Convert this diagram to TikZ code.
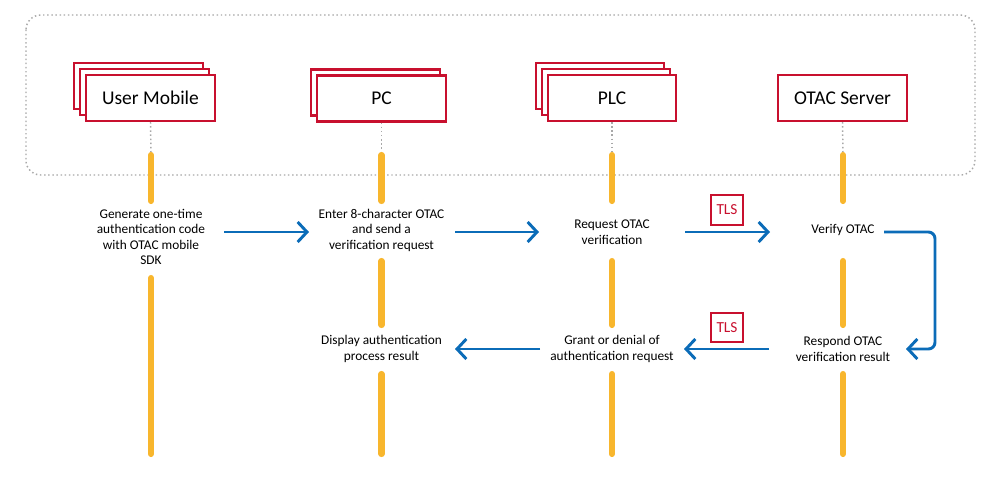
\documentclass[tikz,border=0pt]{standalone}
\usepackage{fontspec}
\setmainfont{Carlito}
\usetikzlibrary{arrows.meta}
\definecolor{cred}{HTML}{C8102E}
\definecolor{cblue}{HTML}{0B6CB8}
\definecolor{cyel}{HTML}{F8B62D}
\definecolor{cgray}{HTML}{A8A8A8}
\tikzset{
  actor/.style={draw=cred, line width=1.6pt, fill=white, minimum width=96.5pt, minimum height=34.5pt, inner sep=0pt, font=\fontsize{14.6}{17}\selectfont},
  msg/.style={align=center, font=\fontsize{10}{11.6}\selectfont, inner sep=0pt},
  tls/.style={draw=cred, line width=1.4pt, text=cred, minimum width=24pt, minimum height=22pt, inner sep=0pt, font=\fontsize{11.5}{13}\selectfont},
  flow/.style={draw=cblue, line width=2.2pt, -{Straight Barb[length=7pt,width=15pt,line width=2.2pt]}},
  life/.style={draw=cyel, line width=4.6pt, line cap=round},
  guide/.style={draw=cgray, line width=1.1pt, dotted},
}
\begin{document}
\begin{tikzpicture}[x=0.75pt,y=-0.75pt]
\useasboundingbox (0,0) rectangle (1000,479);
% group frame
\draw[guide, rounded corners=11pt] (26,15) rectangle (975,175);
% actors
\node[actor] (um3) at (138.5,86) {};
\node[actor] (um2) at (144.5,92) {};
\node[actor] (um) at (150.5,98) {User Mobile};
\node[actor] (pc2) at (375.5,92.5) {};
\node[actor] (pc) at (381.5,98.5) {PC};
\node[actor] (plc3) at (600,86) {};
\node[actor] (plc2) at (606,92) {};
\node[actor] (plc) at (612,98) {PLC};
\node[actor] (srv) at (842.5,98) {OTAC Server};
% lifeline coordinates
\foreach \n/\x in {a/151,b/381.5,c/612,d/843}{
  \coordinate (\n0) at (\x,155);
  \coordinate (\n1) at (\x,201);
  \coordinate (\n2) at (\x,261);
  \coordinate (\n3) at (\x,325);
  \coordinate (\n4) at (\x,374);
  \coordinate (\n5) at (\x,454);
}
\coordinate (a2) at (151,278);
% dotted guides
\draw[guide] (um.south) -- (a0);
\draw[guide] (pc.south) -- (b0);
\draw[guide] (plc.south) -- (c0);
\draw[guide] (srv.south) -- (d0);
% yellow lifelines
\draw[life] (a0) -- (a1);
\draw[life] (a2) -- (a5);
\foreach \n in {b,c,d}{
  \draw[life] (\n0) -- (\n1);
  \draw[life] (\n2) -- (\n3);
  \draw[life] (\n4) -- (\n5);
}
% messages
\node[msg] (m1) at (151,237) {Generate one-time\\authentication code\\with OTAC mobile\\SDK};
\node[msg] (m2) at (381.5,230) {Enter 8-character OTAC\\and send a\\verification request};
\node[msg] (m3) at (612,232) {Request OTAC\\verification};
\node[msg] (m4) at (843,230) {Verify OTAC};
\node[msg] (m5) at (843,349) {Respond OTAC\\verification result};
\node[msg] (m6) at (612,349) {Grant or denial of\\authentication request};
\node[msg] (m7) at (381.5,349) {Display authentication\\process result};
% TLS labels
\node[tls] (tls1) at (727,210) {TLS};
\node[tls] (tls2) at (727,327.5) {TLS};
% arrow endpoints
\coordinate (s1) at (224,232); \coordinate (e1) at (309,232);
\coordinate (s2) at (455,232); \coordinate (e2) at (539,232);
\coordinate (s3) at (685,232); \coordinate (e3) at (770,232);
\coordinate (s4) at (884,232); \coordinate (k1) at (935,232); \coordinate (k2) at (935,349); \coordinate (e4) at (906,349);
\coordinate (s5) at (769,349); \coordinate (e5) at (684,349);
\coordinate (s6) at (540,349); \coordinate (e6) at (455,349);
\draw[flow] (s1) -- (e1);
\draw[flow] (s2) -- (e2);
\draw[flow] (s3) -- (e3);
\draw[flow, rounded corners=5pt] (s4) -- (k1) -- (k2) -- (e4);
\draw[flow] (s5) -- (e5);
\draw[flow] (s6) -- (e6);
\end{tikzpicture}
\end{document}
